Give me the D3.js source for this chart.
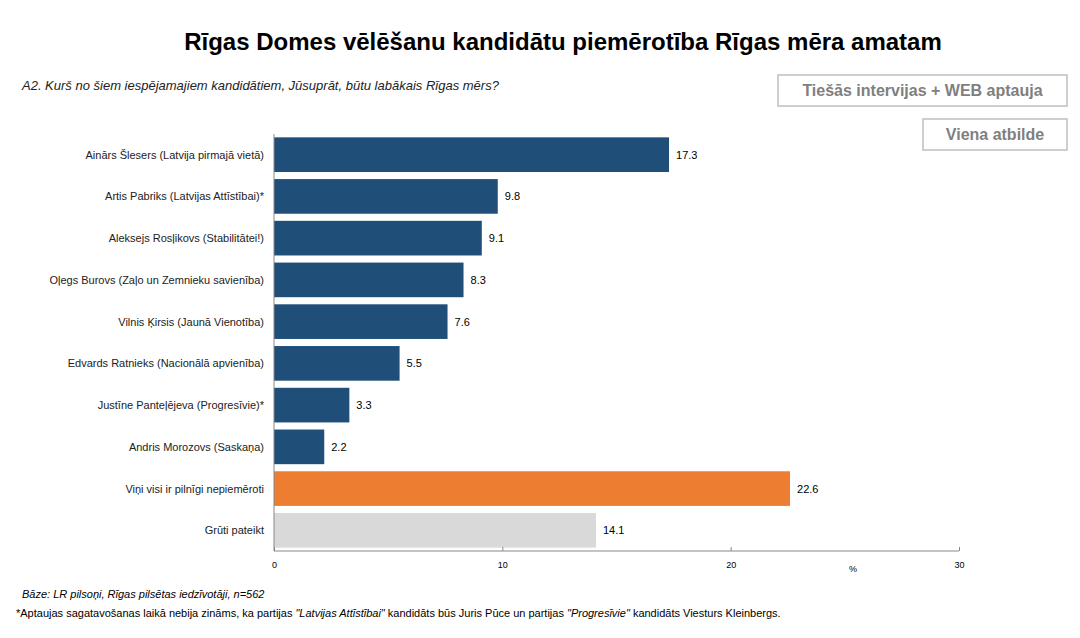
<!DOCTYPE html><html><head><meta charset="utf-8"><script src="https://cdn.jsdelivr.net/npm/d3@7"></script>
<style>body{margin:0;background:#fff;font-family:"Liberation Sans",Arial,sans-serif}</style></head><body><svg id="c" width="1080" height="638"></svg><script>
const categories=["Ainārs Šlesers (Latvija pirmajā vietā)","Artis Pabriks (Latvijas Attīstībai)*","Aleksejs Rosļikovs (Stabilitātei!)","Oļegs Burovs (Zaļo un Zemnieku savienība)","Vilnis Ķirsis (Jaunā Vienotība)","Edvards Ratnieks (Nacionālā apvienība)","Justīne Panteļējeva (Progresīvie)*","Andris Morozovs (Saskaņa)","Viņi visi ir pilnīgi nepiemēroti","Grūti pateikt"];
const values=[17.3,9.8,9.1,8.3,7.6,5.5,3.3,2.2,22.6,14.1];
const colorsList=["#1f4e79","#1f4e79","#1f4e79","#1f4e79","#1f4e79","#1f4e79","#1f4e79","#1f4e79","#ed7d31","#d9d9d9"];
const ticks=[0,10,20,30];
const svg=d3.select("#c");
svg.append("text").attr("x",563).attr("y",50).attr("text-anchor","middle").attr("font-size",24).attr("font-weight","bold").text("Rīgas Domes vēlēšanu kandidātu piemērotība Rīgas mēra amatam");
svg.append("text").attr("x",22).attr("y",90).attr("font-size",13).attr("font-style","italic").attr("fill","#222").text("A2. Kurš no šiem iespējamajiem kandidātiem, Jūsuprāt, būtu labākais Rīgas mērs?");
[[778,75,289,31,"Tiešās intervijas + WEB aptauja"],[923,119,144,31,"Viena atbilde"]].forEach(b=>{
svg.append("rect").attr("x",b[0]).attr("y",b[1]).attr("width",b[2]).attr("height",b[3]).attr("fill","#fff").attr("stroke","#bfbfbf").attr("stroke-width",1.5);
svg.append("text").attr("x",b[0]+b[2]/2).attr("y",b[1]+21).attr("text-anchor","middle").attr("font-size",16).attr("font-weight","bold").attr("fill","#7f7f7f").text(b[4]);});
const x=d3.scaleLinear().domain([0,30]).range([274,959]);
const y=d3.scaleBand().domain(categories).range([134,551]).paddingInner(0.17).paddingOuter(0.08);
svg.selectAll(".b").data(categories).join("rect").attr("x",x(0)).attr("y",d=>y(d)).attr("width",(d,i)=>x(values[i])-x(0)).attr("height",y.bandwidth()).attr("fill",(d,i)=>colorsList[i]);
svg.selectAll(".v").data(categories).join("text").attr("x",(d,i)=>x(values[i])+7).attr("y",d=>y(d)+y.bandwidth()/2+4).attr("font-size",11).text((d,i)=>values[i].toFixed(1));
svg.selectAll(".l").data(categories).join("text").attr("x",264).attr("y",d=>y(d)+y.bandwidth()/2+4).attr("text-anchor","end").attr("font-size",11).attr("fill","#222").text(d=>d);
svg.append("line").attr("x1",274).attr("x2",274).attr("y1",134).attr("y2",551).attr("stroke","#888");
const ax=svg.append("g").attr("transform","translate(0,551)").call(d3.axisBottom(x).tickValues(ticks).tickSize(4).tickFormat(d3.format("d")));
ax.select(".domain").attr("stroke","#888").attr("d","M274,0H959");ax.selectAll("line").attr("stroke","#888").attr("y1",-4).attr("y2",0);
ax.selectAll("text").attr("font-size",9).attr("font-family","Liberation Sans").attr("dy",10);
svg.append("text").attr("x",853).attr("y",572).attr("text-anchor","middle").attr("font-size",9).text("%");
svg.append("text").attr("x",22).attr("y",598).attr("font-size",11).attr("font-style","italic").text("Bāze: LR pilsoņi, Rīgas pilsētas iedzīvotāji, n=562");
const f=svg.append("text").attr("x",16).attr("y",617).attr("font-size",11);
f.append("tspan").text("*Aptaujas sagatavošanas laikā nebija zināms, ka partijas ");
f.append("tspan").attr("font-style","italic").text("\"Latvijas Attīstībai\"");
f.append("tspan").text(" kandidāts būs Juris Pūce un partijas ");
f.append("tspan").attr("font-style","italic").text("\"Progresīvie\"");
f.append("tspan").text(" kandidāts Viesturs Kleinbergs.");
</script></body></html>
